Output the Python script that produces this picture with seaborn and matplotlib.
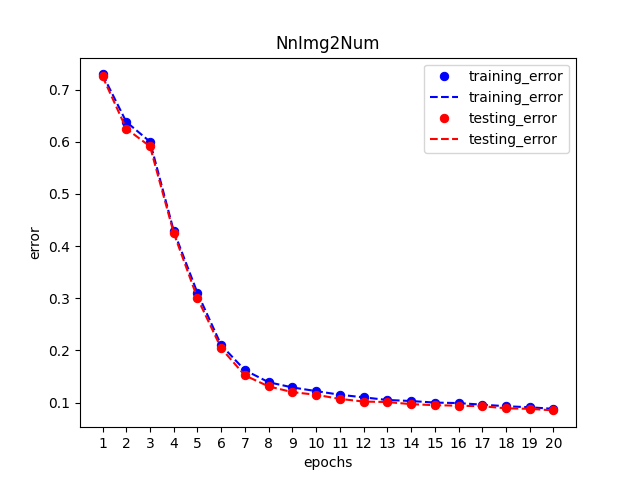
import numpy as np
import matplotlib
matplotlib.use("Agg")
import matplotlib.pyplot as plt
import seaborn as sns

epochs = list(range(1, 21))
training_error = [0.729, 0.638, 0.600, 0.429, 0.310, 0.210, 0.162, 0.139, 0.129, 0.122,
                  0.115, 0.110, 0.105, 0.103, 0.100, 0.099, 0.096, 0.093, 0.091, 0.088]
testing_error = [0.725, 0.625, 0.591, 0.425, 0.300, 0.204, 0.152, 0.131, 0.120, 0.115,
                 0.107, 0.102, 0.101, 0.097, 0.095, 0.094, 0.093, 0.089, 0.088, 0.085]

fig, ax = plt.subplots(figsize=(6.4, 4.8), dpi=100)

for vals, color, name in [(training_error, 'blue', 'training_error'),
                          (testing_error, 'red', 'testing_error')]:
    sns.lineplot(x=epochs, y=vals, ax=ax, color=color, marker='o', linestyle='',
                 markersize=6, markeredgecolor=color, label=name)
    sns.lineplot(x=epochs, y=vals, ax=ax, color=color, linestyle='--',
                 linewidth=1.5, label=name)

ax.set_xticks(epochs)
ax.set_title("NnImg2Num")
ax.set_xlabel("epochs")
ax.set_ylabel("error")
ax.legend(loc='upper right')

plt.savefig("out.png", dpi=100)
plt.close()
